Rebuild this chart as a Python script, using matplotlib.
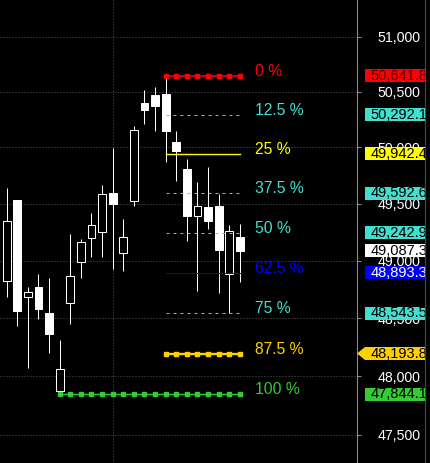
import numpy as np
import matplotlib
matplotlib.use('Agg')
import matplotlib.pyplot as plt
from matplotlib.patches import Rectangle, Polygon
from matplotlib.ticker import NullLocator
from matplotlib import font_manager

# velas (da mais antiga para a mais recente)
opens  = [48825, 49533, 48685, 48770, 48544, 47875, 48633, 48990, 49201, 49253, 49592, 49069,
          49527, 50398, 50470, 50479, 50049, 49808, 49394, 49471, 49480, 48883, 49204]
highs  = [49639, 49533, 48770, 48883, 48848, 48310, 49233, 49189, 49418, 49666, 49998, 49365,
          50192, 50515, 50542, 50641.8, 50147, 49897, 49692, 49826, 49583, 49315, 49321]
lows   = [48685, 48431, 48072, 48492, 48201, 47844.1, 48451, 48851, 49034, 49034, 48929, 48912,
          49483, 50212, 50150, 49873, 49704, 49174, 48737, 49280, 48720, 48543.5, 48816]
closes = [49345, 48561, 48726, 48578, 48362, 48058, 48863, 49160, 49310, 49583, 49498, 49204,
          50153, 50335, 50371, 50150, 49971, 49394, 49480, 49350, 49095, 49257, 49087.3]

# niveis de fibonacci
fib_labels = ['0 %', '12.5 %', '25 %', '37.5 %', '50 %', '62.5 %', '75 %', '87.5 %', '100 %']
fib_prices = [50641.8, 50292.1, 49942.4, 49592.6, 49242.9, 48893.3, 48543.5, 48193.8, 47844.1]
fib_start = [15, 15, 15, 15, 15, 15, 15, 15, 5]
fib_end = 22

last_price = 49087.3
yticks = [47500, 48000, 48500, 49000, 49500, 50000, 50500, 51000]

fib_colors = ['#ff0000', '#40e0d0', '#ffff00', '#40e0d0', '#40e0d0', '#0000ff', '#40e0d0', '#ffd000', '#33cc33']
box_text_colors = ['#5a0000', 'black', 'black', 'black', 'black', 'white', 'black', 'black', 'black']
px = 0.72
fib_styles = [
    dict(ls='-', lw=1.6*px, marker='s', ms=3.5*px),
    dict(ls=(0, (3, 4)), lw=1*px),
    dict(ls='-', lw=1.4*px),
    dict(ls=(0, (3, 4)), lw=1*px),
    dict(ls=(0, (3, 4)), lw=1*px),
    dict(ls='-', lw=1*px),
    dict(ls=(0, (3, 4)), lw=1*px),
    dict(ls='-', lw=2.4*px, marker='s', ms=4.5*px),
    dict(ls='-', lw=1.4*px, marker='s', ms=3.2*px),
]

# fonte estreita se existir, senao Liberation Sans menor
names = {f.name for f in font_manager.fontManager.ttflist}
if 'Liberation Sans Narrow' in names:
    fib_font, fib_size = 'Liberation Sans Narrow', 12.3
else:
    fib_font, fib_size = 'Liberation Sans', 11.3

W, H = 430, 463
ymin, ymax = 47260.8, 51333.6

fig = plt.figure(figsize=(W/100, H/100), dpi=100, facecolor='black')
ax = fig.add_axes([0, 0, 357/W, 1], facecolor='black')
ax.set_yscale('log')
ax.set_ylim(ymin, ymax)
ax.set_xlim(-6.7/10.6, (357-6.7)/10.6)

# grade
for t in yticks:
    ax.axhline(t, color='#555555', lw=1*px, ls=(0, (1, 2)), zorder=0)
ax.axvline(10, color='#555555', lw=1*px, ls=(0, (1, 2)), zorder=0)

# candles
x = np.arange(len(opens))
o = np.array(opens); c = np.array(closes)
ax.vlines(x, lows, highs, color='white', lw=1*px, zorder=1)
up = c >= o
ax.bar(x[up], (c-o)[up], bottom=o[up], width=0.72, color='black', edgecolor='white', lw=1*px, zorder=2)
ax.bar(x[~up], (o-c)[~up], bottom=c[~up], width=0.72, color='white', edgecolor='white', lw=1*px, zorder=2)

# linhas fibonacci
for lab, p, s, col, st in zip(fib_labels, fib_prices, fib_start, fib_colors, fib_styles):
    xs = np.arange(s, fib_end+1)
    ax.plot(xs, [p]*len(xs), color=col, zorder=3, **st)
    ax.text(23.45, p, lab, color=col, fontsize=fib_size, family=fib_font,
            ha='left', va='baseline', zorder=4)

# eixo da direita
for side in ['left', 'top', 'bottom']:
    ax.spines[side].set_visible(False)
ax.spines['right'].set_color('#8a8a8a')
ax.set_xticks([])
ax.yaxis.tick_right()
ax.set_yticks(yticks)
ax.set_yticklabels([f'{t:,}' for t in yticks])
ax.yaxis.set_minor_locator(NullLocator())
ax.tick_params(axis='y', colors='#8a8a8a', length=4*px, width=1*px, pad=12, labelcolor='white',
               labelsize=10.2)
for lbl in ax.get_yticklabels():
    lbl.set_family('Liberation Sans')

# caixas de preço
ax2 = fig.add_axes([357/W, 0, 68/W, 1])
ax2.patch.set_visible(False)
ax2.set_yscale('log')
ax2.set_ylim(ymin, ymax)
ax2.set_xlim(0, 68)
ax2.set_xticks([]); ax2.set_yticks([])
ax2.yaxis.set_minor_locator(NullLocator())
for side in ['left', 'top', 'bottom']:
    ax2.spines[side].set_visible(False)
ax2.spines['right'].set_color('#3c4650')
ax2.spines['right'].set_linewidth(1.2*px)

k = H / np.log(ymax/ymin)
f = np.exp(6.5/k)
boxes = list(zip(fib_prices, fib_colors, box_text_colors)) + [(last_price, 'white', 'black')]
for i, (p, bg, tc) in enumerate(boxes):
    if i == 7:
        poly = Polygon([(0, p), (8, p*f), (70, p*f), (70, p/f), (8, p/f)], closed=True,
                       fc=bg, ec='none', zorder=3)
        ax2.add_patch(poly)
    else:
        ax2.add_patch(Rectangle((8, p/f), 62, p*f - p/f, fc=bg, ec='none', zorder=3))
    ax2.text(13.5, p, f'{p:,.1f}', color=tc, fontsize=10.5, family='Liberation Sans',
             ha='left', va='center', zorder=4, clip_on=True)

fig.savefig('out.png', dpi=100, facecolor='black')
